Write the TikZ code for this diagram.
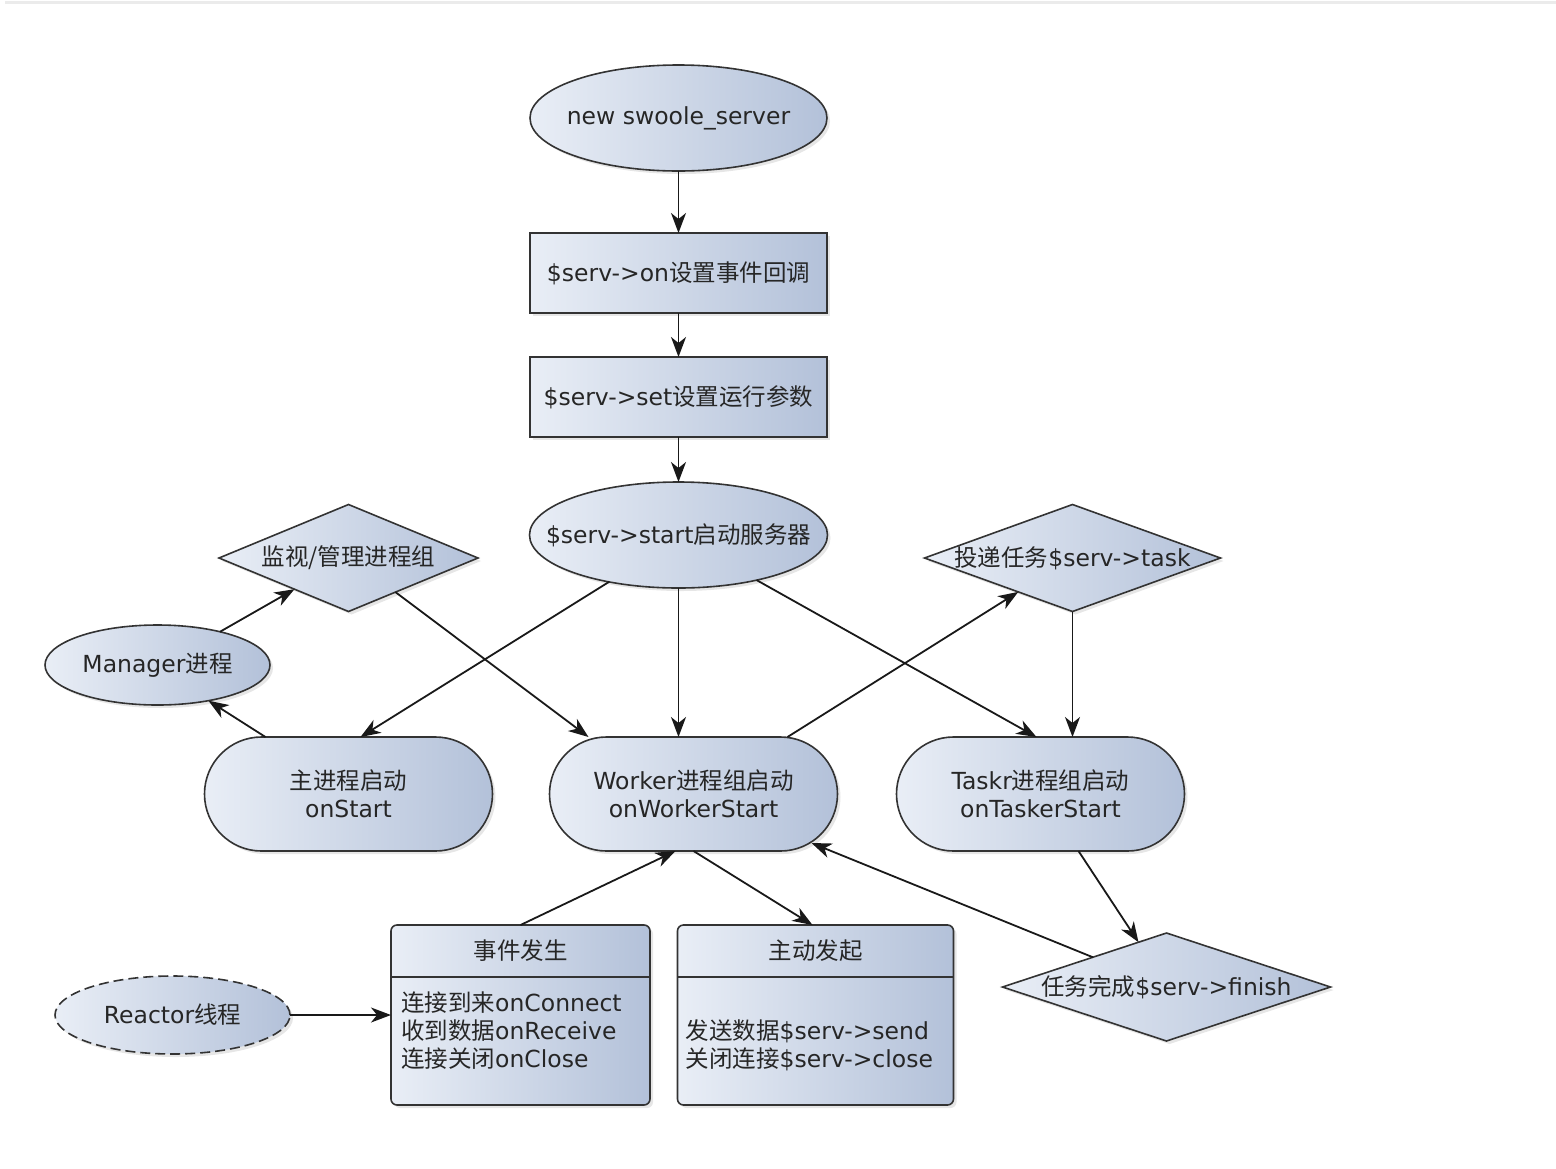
\documentclass[tikz,border=0pt]{standalone}
\usepackage{fontspec}
\setmainfont{DejaVu Sans}
\newfontfamily\cjk{Noto Sans CJK SC}
\newcommand{\zh}[1]{{\cjk #1}}
\newcommand{\tight}[1]{\makebox[0pt]{#1}}
\newcommand{\nodefont}{\fontsize{23.5}{28}\selectfont}
\usepackage{tikz}
\usetikzlibrary{shapes.geometric, arrows.meta}
\usetikzlibrary{positioning, shadows}
\definecolor{fillleft}{HTML}{E9EEF6}
\definecolor{fillright}{HTML}{B3C1D9}
\definecolor{edge}{HTML}{333333}
\tikzstyle{base} = [draw=edge, line width=1.6pt, left color=fillleft, right color=fillright, inner sep=0pt, outer sep=0pt, drop shadow={shadow xshift=3pt, shadow yshift=-3pt, opacity=0.2}, font=\nodefont, text=black!85]
\tikzstyle{oval} = [base, ellipse]
\tikzstyle{proc} = [base, rectangle, minimum width=297pt, minimum height=80pt]
\tikzstyle{pill} = [base, rectangle, rounded corners=57pt, minimum width=288pt, minimum height=114pt, align=center]
\tikzstyle{decision} = [base, diamond]
\tikzstyle{panel} = [base, rectangle, rounded corners=6pt, minimum height=180pt]
\tikzstyle{paneltext} = [inner sep=0pt, align=left, font=\nodefont, text=black!85]
\tikzstyle{arrow} = [line width=1.8pt, draw=black!90, -{Stealth[length=20pt, width=15pt, inset=6pt]}]

\begin{document}
\begin{tikzpicture}[x=1pt, y=-1pt]
\useasboundingbox (0,0) rectangle (1556,1168);
\draw [black!8, line width=3pt] (5,2.5) -- (1556,2.5);

\node (start) [oval, minimum width=297pt, minimum height=106pt] at (678.5,118) {\tight{new swoole\_server}};
\node (onset) [proc, node distance=155pt, below of=start] {\$serv->on\zh{设置事件回调}};
\node (setparam) [proc, node distance=124pt, below of=onset] {\$serv->set\zh{设置运行参数}};
\node (servstart) [oval, minimum width=298pt, minimum height=106pt, node distance=138pt, below of=setparam] {\tight{\$serv->start\zh{启动服务器}}};

\node (worker) [pill, node distance=259pt, below of=servstart, xshift=15pt] {Worker\zh{进程组启动}\\onWorkerStart};
\node (onstart) [pill, node distance=345pt, left of=worker] {\zh{主进程启动}\\onStart};
\node (taskr) [pill, node distance=347pt, right of=worker] {Taskr\zh{进程组启动}\\onTaskerStart};

\node (monitor) [decision, minimum width=259pt, minimum height=107pt, node distance=236pt, above of=onstart] {\tight{\zh{监视/管理进程组}}};
\node (manager) [oval, minimum width=225pt, minimum height=80pt, node distance=191pt, left of=onstart, yshift=129pt] {\tight{Manager\zh{进程}}};
\node (deliver) [decision, minimum width=296pt, minimum height=107pt, node distance=236pt, above of=taskr, xshift=32pt] {\tight{\zh{投递任务}\$serv->task}};
\node (finish) [decision, minimum width=328pt, minimum height=108pt, node distance=193pt, below of=taskr, xshift=126pt] {\tight{\zh{任务完成}\$serv->finish}};

\node (event) [panel, minimum width=259pt, node distance=221pt, below of=worker, xshift=-173pt] {};
\node (active) [panel, minimum width=276pt, node distance=295pt, right of=event] {};
\node (reactor) [oval, dashed, dash pattern=on 10pt off 5pt, minimum width=235pt, minimum height=78pt, node distance=348pt, left of=event] {\tight{Reactor\zh{线程}}};

\draw [draw=edge, line width=1.6pt] ([yshift=-52pt]event.north west) -- ([yshift=-52pt]event.north east);
\draw [draw=edge, line width=1.6pt] ([yshift=-52pt]active.north west) -- ([yshift=-52pt]active.north east);
\node (eventtitle) [paneltext] at ([yshift=-26pt]event.north) {\zh{事件发生}};
\node (eventbody) [paneltext, anchor=west] at ([xshift=10pt, yshift=-16pt]event.west) {\zh{连接到来}onConnect\\\zh{收到数据}onReceive\\\zh{连接关闭}onClose};
\node (activetitle) [paneltext] at ([yshift=-26pt]active.north) {\zh{主动发起}};
\node (activebody) [paneltext, anchor=west] at ([xshift=8pt, yshift=-30pt]active.west) {\zh{发送数据}\$serv->send\\\zh{关闭连接}\$serv->close};

\draw [arrow] (start) -- (onset);
\draw [arrow] (onset) -- (setparam);
\draw [arrow] (setparam) -- (servstart);

\draw [arrow] (servstart.214) -- ([xshift=12pt]onstart.north);
\draw [arrow] (servstart.south) -- (servstart.south |- worker.north);
\draw [arrow] (servstart.330) -- ([xshift=-4pt]taskr.north);

\draw [arrow] ([xshift=-83pt]onstart.north) -- (manager.325);
\draw [arrow] (manager.28) -- (monitor.210);
\draw [arrow] (monitor.324) -- ([xshift=-105pt]worker.north);

\draw [arrow] ([xshift=94pt]worker.north) -- (deliver.212);
\draw [arrow] (deliver.south) -- (deliver.south |- taskr.north);
\draw [arrow] ([xshift=38pt]taskr.south) -- (finish.122);
\draw [arrow] (finish.158) -- ([xshift=118pt, yshift=-49pt]worker.center);

\draw [arrow] (event.north) -- ([xshift=-18pt]worker.south);
\draw [arrow] (worker.south) -- ([xshift=-3pt]active.north);
\draw [arrow] (reactor) -- (reactor -| event.west);

\end{tikzpicture}
\end{document}
